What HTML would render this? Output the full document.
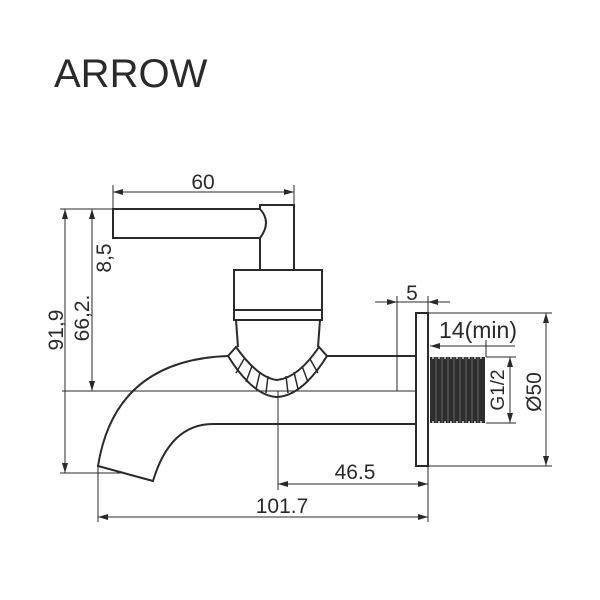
<!DOCTYPE html>
<html><head><style>
html,body{margin:0;padding:0;background:#fff;}
svg{display:block;}
text{font-family:"Liberation Sans",sans-serif;fill:#2a2a2a;}
</style></head><body>
<svg width="600" height="600" viewBox="0 0 600 600" xmlns="http://www.w3.org/2000/svg">
<defs>
<marker id="a" viewBox="0 0 10 6" refX="10" refY="3" markerWidth="10" markerHeight="6" orient="auto-start-reverse" markerUnits="userSpaceOnUse"><path d="M0,0 L10,3 L0,6 z" fill="#2a2a2a"/></marker>
</defs>
<text x="54" y="87" font-size="40" fill="#3a3a3a">ARROW</text>
<g fill="none" stroke="#2a2a2a" stroke-width="2">
<path d="M113,209 H260 Q272,222 260,238 H113 Z"/>
<path d="M260,209 V205 H294 V270"/>
<path d="M260,238 V270"/>
<rect x="234" y="270" width="88" height="40"/>
<path d="M234,310 V320 H322 V310"/>
<path d="M236,320 L238,347 M320,320 L318,347"/>
<path d="M228,356 L236,347 Q258,378 277,380 Q298,378 319,347 L327,356 Q302,396 277,397 Q253,396 228,356 Z"/>
<path d="M327,356 H416"/>
<path d="M416,424 H213 Q170,424 153,481 L98,466 Q115,360 228,356"/>
<rect x="416" y="313" width="12" height="153"/>
</g>
<g stroke="#2a2a2a" stroke-width="1.5">
<path d="M244,359 L236,373 M252,366 L246,382 M260,372 L256,389 M268,376 L266,393 M286,376 L288,393 M294,372 L298,389 M302,366 L308,382 M310,359 L318,373"/>
</g>
<rect x="430" y="357" width="55" height="66" fill="#2e2e2e"/>
<g stroke="#777" stroke-width="0.8">
<path d="M436,357V423M442,357V423M448,357V423M454,357V423M460,357V423M466,357V423M472,357V423M478,357V423"/>
</g>
<g stroke="#fff" stroke-width="1.2">
<path d="M433,356V359M439,356V359M445,356V359M451,356V359M457,356V359M463,356V359M469,356V359M475,356V359M481,356V359"/>
<path d="M433,421V424M439,421V424M445,421V424M451,421V424M457,421V424M463,421V424M469,421V424M475,421V424M481,421V424"/>
</g>
<g fill="none" stroke="#2a2a2a" stroke-width="1">
<path d="M60,209 H113"/>
<path d="M62,391 H416"/>
<path d="M60,473 H125"/>
<path d="M278,391 V490"/>
<path d="M113,185 V209 M294,185 V205"/>
<path d="M397,296 V391 M428,296 V313"/>
<path d="M428,313 H552 M428,466 H552"/>
<path d="M486,357 H516 M486,423 H516"/>
<path d="M486,340 V357"/>
<path d="M98,466 V522 M428,466 V522"/>
<path d="M113,192 H294" marker-start="url(#a)" marker-end="url(#a)"/>
<path d="M65,473 V209" marker-end="url(#a)" marker-start="url(#a)"/>
<path d="M92,391 V209" marker-end="url(#a)" marker-start="url(#a)"/>
<path d="M375,302 H397" marker-end="url(#a)"/>
<path d="M450,302 H428" marker-end="url(#a)"/>
<path d="M397,302 H428"/>
<path d="M515,346 H430" marker-end="url(#a)"/>
<path d="M510,357 V423" marker-start="url(#a)" marker-end="url(#a)"/>
<path d="M546,313 V466" marker-start="url(#a)" marker-end="url(#a)"/>
<path d="M278,484 H428" marker-start="url(#a)" marker-end="url(#a)"/>
<path d="M98,517 H428" marker-start="url(#a)" marker-end="url(#a)"/>
</g>
<g font-size="21">
<text x="203" y="189" text-anchor="middle">60</text>
<text x="412" y="300" text-anchor="middle">5</text>
<text x="478" y="338" text-anchor="middle" font-size="23">14(min)</text>
<text x="355" y="479" text-anchor="middle">46.5</text>
<text x="282" y="513" text-anchor="middle">101.7</text>
<text transform="translate(63,330) rotate(-90)" text-anchor="middle">91,9</text>
<text transform="translate(89,318) rotate(-90)" text-anchor="middle">66,2.</text>
<text transform="translate(111,258) rotate(-90)" text-anchor="middle">8,5</text>
<text transform="translate(504,390) rotate(-90)" text-anchor="middle" font-size="19">G1/2</text>
<text transform="translate(541,392) rotate(-90)" text-anchor="middle">Ø50</text>
</g>
</svg>
</body></html>
